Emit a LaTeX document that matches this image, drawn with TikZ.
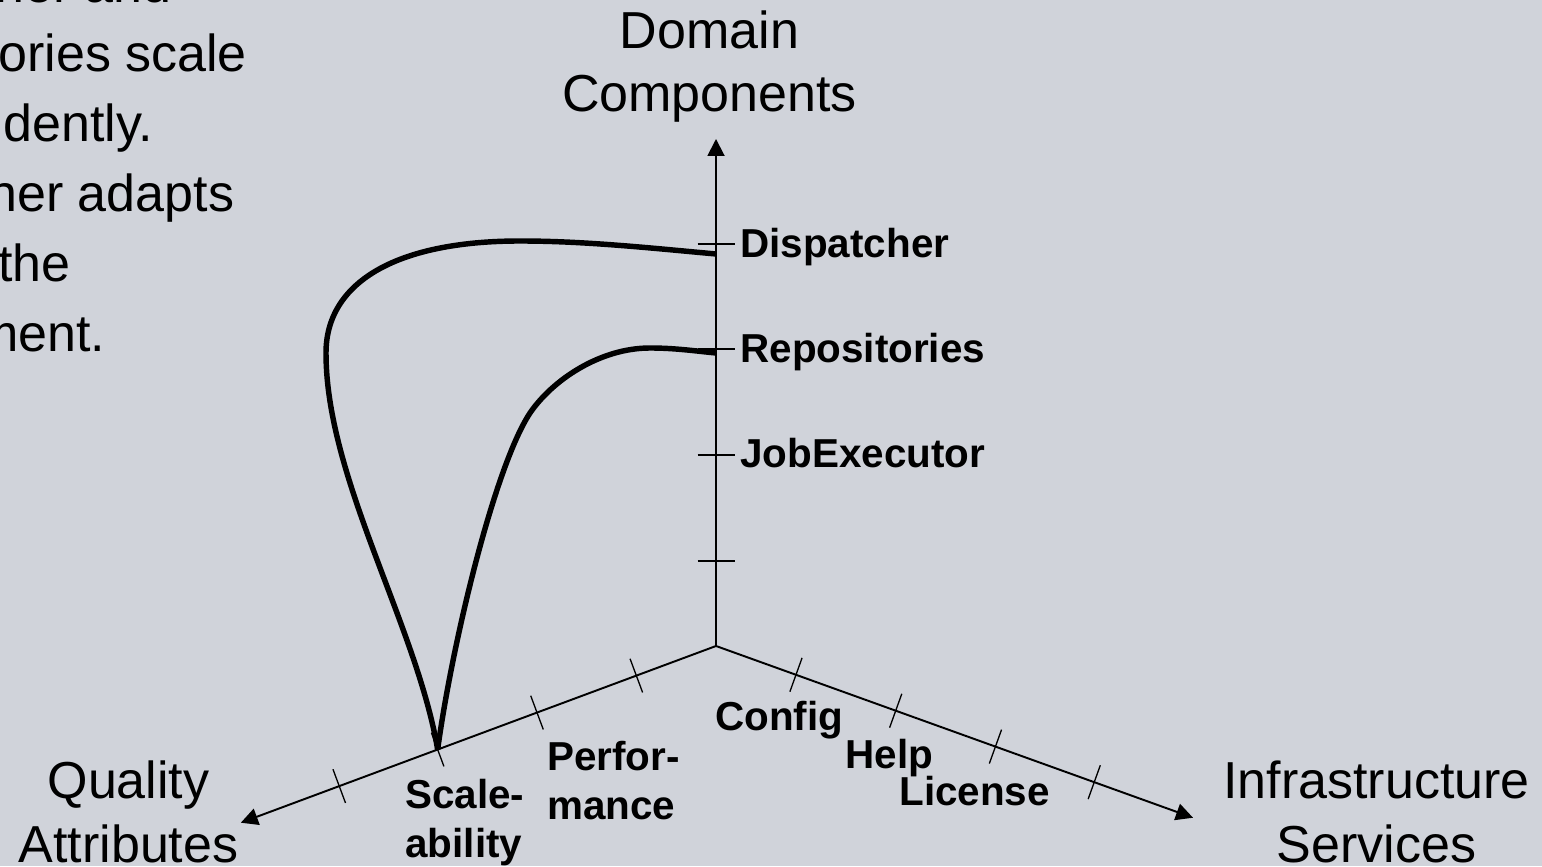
\documentclass[tikz,border=0pt]{standalone}
\usepackage{fontspec}
\setmainfont{Liberation Sans}
\usetikzlibrary{arrows.meta}
\definecolor{hintergrund}{RGB}{208,211,218}
\tikzset{
  achse/.style={line width=1.1pt,-{Triangle[length=0.34cm,width=0.34cm]}},
  strich/.style={line width=0.75pt},
  kurve/.style={line width=3.1pt},
  gross/.style={font=\fontsize{29.6}{36}\selectfont,align=center,inner sep=0pt,anchor=base},
  absatz/.style={font=\fontsize{29.6}{36}\selectfont,inner sep=0pt,anchor=base west},
  fett/.style={font=\fontsize{23}{27.8}\selectfont\bfseries,align=left,inner sep=0pt,anchor=base west}
}
\begin{document}
\begin{tikzpicture}
\fill[hintergrund] (0,0) rectangle (30.84,17.32);
\useasboundingbox (0,0) rectangle (30.84,17.32);

%Text links oben
\node[absatz] (z1) at (-0.1,17.26) {her and};
\node[absatz] (z2) at (-0.04,15.88) {ories scale};
\node[absatz] (z3) at (0.06,14.48) {dently.};
\node[absatz] (z4) at (-0.24,13.08) {her adapts};
\node[absatz] (z5) at (-0.04,11.68) {the};
\node[absatz] (z6) at (-0.5,10.28) {ment.};

%Achsen
\coordinate (O) at (14.32,4.4);
\path (O) ++(90:10.14) coordinate (D);
\path (O) ++(200.4:10.14) coordinate (Q);
\path (O) ++(-19.8:10.14) coordinate (I);
\draw[achse] (O) -- (D);
\draw[achse] (O) -- (Q);
\draw[achse] (O) -- (I);

%Striche
\foreach \r in {1.7,3.82,5.94,8.04}
{
	\draw[strich] (O) ++(0,\r) ++(-0.37,0) -- ++(0.74,0);
	\draw[strich] (O) ++(200.4:\r) ++(110.4:0.36) -- ++(290.4:0.72);
	\draw[strich] (O) ++(-19.8:\r) ++(70.2:0.36) -- ++(250.2:0.72);
}

%Kurven
\path (O) ++(200.4:5.94) coordinate (S);
\path (O) ++(0,7.84) coordinate (dend);
\path (O) ++(0,5.86) coordinate (rend);
\draw[kurve] (S) .. controls (8.33,4.82) and (6.52,7.76) .. (6.52,10.26)
	.. controls (6.52,11.66) and (7.9,12.5) .. (10.4,12.5)
	.. controls (11.7,12.5) and (13.0,12.36) .. (dend);
\draw[kurve] (S) .. controls (9.05,4.5) and (9.9,8.0) .. (10.6,9.06)
	.. controls (11.05,9.72) and (12.0,10.36) .. (13.0,10.36)
	.. controls (13.5,10.36) and (13.9,10.3) .. (rend);

%Beschriftung
\node[gross] (dom) at (14.19,15.08) {Domain\\Components};
\node[gross] (qual) at (2.57,0.08) {Quality\\Attributes};
\node[gross] (infra) at (27.53,0.08) {Infrastructure\\Services};

\node[fett] (disp) at (14.8,12.16) {Dispatcher};
\node[fett] (repo) at (14.8,10.06) {Repositories};
\node[fett] (job) at (14.8,7.96) {JobExecutor};
\node[fett] (scal) at (8.10,0.18) {Scale-\\ability};
\node[fett] (perf) at (10.94,0.94) {Perfor-\\mance};
\node[fett] (conf) at (14.30,2.72) {Config};
\node[fett] (help) at (16.90,1.96) {Help};
\node[fett] (lic) at (17.98,1.22) {License};

\end{tikzpicture}
\end{document}
